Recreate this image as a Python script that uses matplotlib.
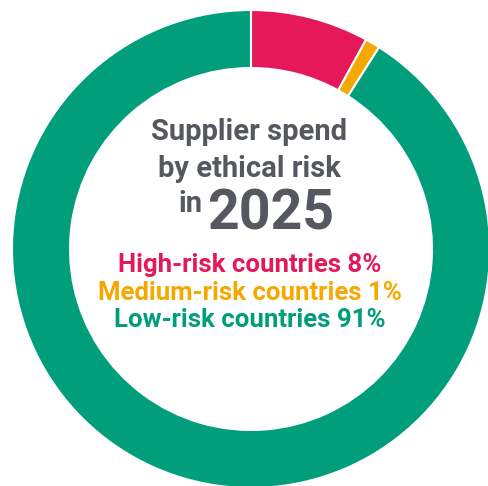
import matplotlib
matplotlib.use("Agg")
import matplotlib.pyplot as plt

# data
labels = ["High-risk countries", "Medium-risk countries", "Low-risk countries"]
shares = [8, 1, 91]
colors = ["#e5185a", "#f5a800", "#009e7b"]
year = "2025"
title_lines = ["Supplier spend", "by ethical risk"]

W, H = 488, 486
fig = plt.figure(figsize=(W / 100, H / 100), dpi=100)
ax = fig.add_axes([0, 0, 1, 1])

cx, cy = 251, H - 249
ax.pie(shares, colors=colors, startangle=90, counterclock=False,
       center=(cx, cy), radius=239, frame=True,
       wedgeprops=dict(width=58, edgecolor="white", linewidth=1.5))
ax.set_xlim(0, W)
ax.set_ylim(0, H)
ax.set_aspect("equal")
ax.axis("off")

grey = "#55585f"
font = "Roboto"
ax.text(cx - 2, H - 140, title_lines[0], ha="center", va="baseline",
        fontsize=21, fontweight="bold", color=grey, family=font)
ax.text(cx - 2, H - 177, title_lines[1], ha="center", va="baseline",
        fontsize=21, fontweight="bold", color=grey, family=font)
ax.text(191, H - 212, "in", ha="center", va="baseline",
        fontsize=21, fontweight="bold", color=grey, family=font)
ax.text(271, H - 230, year, ha="center", va="baseline",
        fontsize=40, fontweight="bold", color=grey, family=font)

ys = [272, 300, 327]
for lab, s, c, y in zip(labels, shares, colors, ys):
    ax.text(cx - 1, H - y, f"{lab} {s}%", ha="center", va="baseline",
            fontsize=18.5, fontweight="bold", color=c, family=font)

fig.savefig("out.png", dpi=100)
